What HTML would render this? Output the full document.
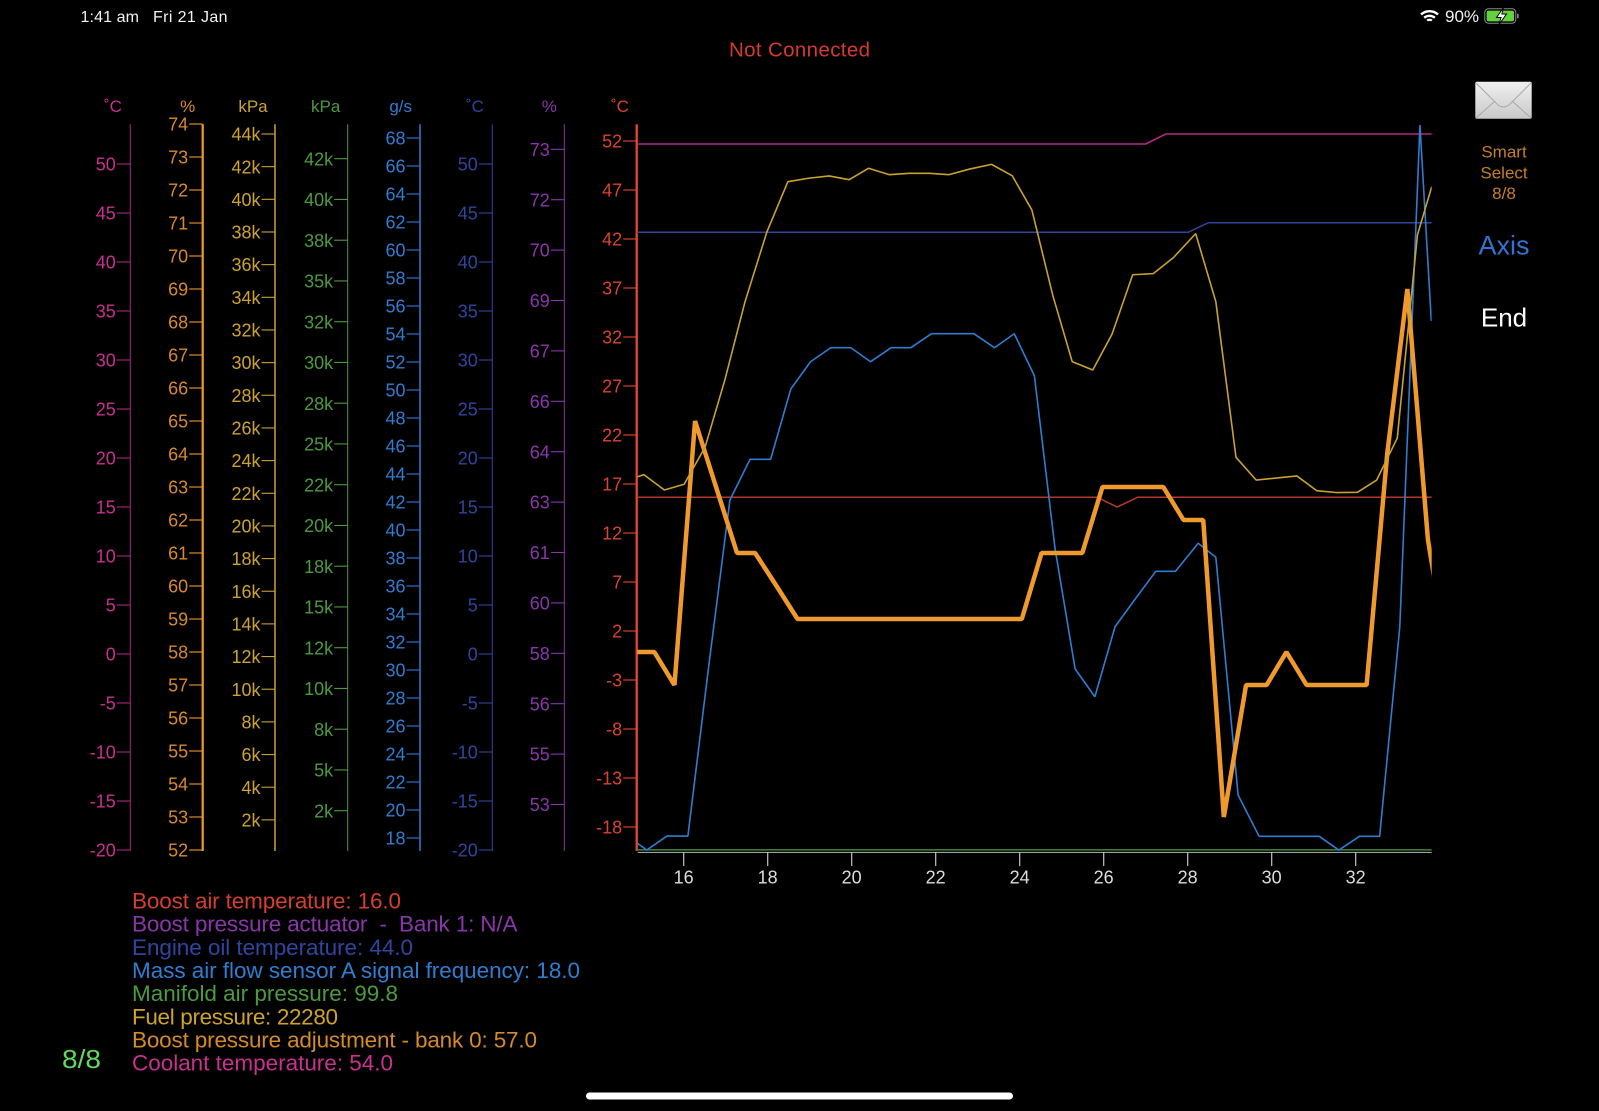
<!DOCTYPE html>
<html lang="en">
<head>
<meta charset="utf-8">
<title>OBD chart</title>
<style>
html,body{margin:0;padding:0;background:#000;width:1599px;height:1111px;overflow:hidden}
svg{display:block;position:absolute;left:0;top:0}
text{font-family:"Liberation Sans",sans-serif}
</style>
</head>
<body>
<svg id="chart" width="1599" height="1111" viewBox="0 0 1599 1111">
  <defs>
    <clipPath id="plotClip"><rect x="637.2" y="120" width="794.5" height="735"/></clipPath>
    <linearGradient id="env" x1="0" y1="0" x2="0" y2="1"><stop offset="0" stop-color="#f0f0f0"/><stop offset="1" stop-color="#c9c9c9"/></linearGradient>
  </defs>
  <rect width="1599" height="1111" fill="#000"/>
  <g>
    <text x="80.5" y="21.8" font-size="16" fill="#f2f2f2" textLength="58.5" lengthAdjust="spacing">1:41 am</text>
    <text x="153" y="21.8" font-size="16" fill="#f2f2f2" textLength="74.5" lengthAdjust="spacing">Fri 21 Jan</text>
    <g fill="none" stroke="#fff" stroke-width="2.4">
      <path d="M1421 14.5a12.5 12.5 0 0 1 17 0"/>
      <path d="M1424.2 17.8a8 8 0 0 1 10.6 0"/>
      <path d="M1427.2 20.6a3.6 3.6 0 0 1 4.6 0"/>
    </g>
    <text x="1445" y="22" font-size="17" fill="#f2f2f2">90%</text>
    <g>
      <rect x="1484.8" y="8.8" width="31" height="14.4" rx="3.6" fill="none" stroke="#8a8a8a" stroke-width="1"/>
      <rect x="1486.6" y="10.6" width="27.4" height="10.8" rx="2" fill="#62d23e"/>
      <rect x="1517" y="13.5" width="1.8" height="5" rx="0.9" fill="#777"/>
      <path d="M1503.5 7.5l-7 10h4.5l-2 7 7.5-10.5h-4.6z" fill="#fff" stroke="#000" stroke-width="1"/>
    </g>
  </g>
  <text x="799.5" y="56.5" font-size="20.5" text-anchor="middle" fill="#d43a2e" textLength="141" lengthAdjust="spacing">Not Connected</text>

  <g id="axes"></g>
  <g id="xaxis"></g>
  <g id="series" clip-path="url(#plotClip)"></g>

  <g font-size="22.5">
    <text x="132" y="908.5" fill="#d43f2e" textLength="269" lengthAdjust="spacing">Boost air temperature: 16.0</text>
    <text x="132" y="931.5" fill="#8a36ab" textLength="385.5" lengthAdjust="spacing" xml:space="preserve">Boost pressure actuator  -  Bank 1: N/A</text>
    <text x="132" y="955" fill="#2f459e" textLength="281" lengthAdjust="spacing">Engine oil temperature: 44.0</text>
    <text x="132" y="978" fill="#2f7dd1" textLength="448" lengthAdjust="spacing">Mass air flow sensor A signal frequency: 18.0</text>
    <text x="132" y="1001" fill="#4c9a40" textLength="266" lengthAdjust="spacing">Manifold air pressure: 99.8</text>
    <text x="132" y="1024.5" fill="#cda32e" textLength="206" lengthAdjust="spacing">Fuel pressure: 22280</text>
    <text x="132" y="1047.5" fill="#d48a26" textLength="405" lengthAdjust="spacing">Boost pressure adjustment - bank 0: 57.0</text>
    <text x="132" y="1070.5" fill="#c9308f" textLength="261" lengthAdjust="spacing">Coolant temperature: 54.0</text>
  </g>
  <text x="62" y="1068" font-size="26" fill="#63d95c" textLength="39" lengthAdjust="spacingAndGlyphs">8/8</text>

  <g>
    <rect x="1475.3" y="81.7" width="56.4" height="37" rx="1.5" fill="url(#env)"/>
    <path d="M1476 83l22 22q5.5 4 11 0l22-22M1476 118l19-17M1531 118l-19-17" fill="none" stroke="#a8a8a8" stroke-width="1"/>
  </g>
  <g font-size="17" fill="#c67f25" text-anchor="middle">
    <text x="1504" y="157.5">Smart</text>
    <text x="1504" y="178.5">Select</text>
    <text x="1504" y="199">8/8</text>
  </g>
  <text x="1504" y="254.5" font-size="27" fill="#2f74d0" text-anchor="middle">Axis</text>
  <text x="1504" y="326.5" font-size="26" fill="#fff" text-anchor="middle">End</text>
  <rect x="586" y="1092.5" width="427" height="7" rx="3.5" fill="#fff"/>
</svg>
<script>
// Tick values
const coolantTicks = [-20,-15,-10,-5,0,5,10,15,20,25,30,35,40,45,50];
const adjustTicks = [52,53,54,55,56,57,58,59,60,61,62,63,64,65,66,67,68,69,70,71,72,73,74];
const fuelTicks = [2,4,6,8,10,12,14,16,18,20,22,24,26,28,30,32,34,36,38,40,42,44];
const manifoldTicks = [2.5,5,7.5,10,12.5,15,17.5,20,22.5,25,27.5,30,32.5,35,37.5,40,42.5];
const manifoldLabels = ['2k','5k','8k','10k','12k','15k','18k','20k','22k','25k','28k','30k','32k','35k','38k','40k','42k'];
const mafTicks = [18,20,22,24,26,28,30,32,34,36,38,40,42,44,46,48,50,52,54,56,58,60,62,64,66,68];
const oilTicks = [-20,-15,-10,-5,0,5,10,15,20,25,30,35,40,45,50];
const actuatorTicks = [53.5,55,56.5,58,59.5,61,62.5,64,65.5,67,68.5,70,71.5,73];
const actuatorLabels = ['53','55','56','58','60','61','63','64','66','67','69','70','72','73'];
const boostTicks = [-18,-13,-8,-3,2,7,12,17,22,27,32,37,42,47,52];
const timeTicks = [16,18,20,22,24,26,28,30,32];

// Series: time (s) and value in each series' own axis units
const boostTime = [14.88,25.84,26.32,26.81,33.81];
const boostTemp = [15.65,15.65,14.65,15.65,15.65];
const oilTime = [14.88,28.01,28.49,33.81];
const oilTemp = [43.03,43.03,44.01,44.01];
const coolantTime = [14.88,27.0,27.48,33.81];
const coolantTemp = [52.04,52.04,53.06,53.06];
const manifoldTime = [14.88,33.81];
const manifoldPressure = [0.1,0.1];
const mafTime = [14.90,15.12,15.6,16.1,16.59,17.1,17.58,18.07,18.55,19.02,19.5,19.98,20.45,20.94,21.41,21.9,22.91,23.4,23.87,24.35,24.84,25.32,25.79,26.27,26.75,27.24,27.71,28.25,28.67,29.2,29.7,31.13,31.6,32.09,32.57,33.05,33.53,33.8];
const mafFlow = [17.62,17.14,18.14,18.14,30.14,42.14,45.05,45.05,50.07,52.02,53.02,53.02,52.02,53.02,53.02,54.02,54.02,53.02,54.02,51.02,38.71,30.07,28.09,33.09,35.07,37.05,37.05,39.05,38.05,21.07,18.12,18.12,17.14,18.12,18.12,33.09,68.93,54.93];
const fuelTime = [14.90,15.05,15.54,16.01,16.51,16.98,17.46,17.98,18.48,18.97,19.46,19.94,20.40,20.89,21.37,21.85,22.32,22.82,23.33,23.82,24.29,24.79,25.25,25.74,26.2,26.69,27.18,27.66,28.19,28.67,29.15,29.63,30.1,30.6,31.07,31.56,32.04,32.5,32.99,33.47,33.81];
const fuelPressure = [23.0,23.14,22.2,22.55,24.83,28.94,33.73,38.0,41.08,41.29,41.43,41.2,41.9,41.51,41.59,41.59,41.51,41.86,42.14,41.45,39.35,34.1,30.06,29.55,31.75,35.38,35.45,36.43,37.9,33.73,24.2,22.81,22.93,23.06,22.16,22.04,22.06,22.81,25.38,37.82,40.77];
const adjustTime = [14.88,15.3,15.78,16.27,17.27,17.7,18.21,18.71,24.05,24.52,25.49,25.97,27.42,27.9,28.37,28.86,29.39,29.88,30.35,30.83,32.26,32.75,33.23,33.72,33.91];
const adjustPercent = [58,58,57,65,61,61,60,59,59,61,61,63,63,62,62,53,57,57,58,57,57,64,69,61.4,59.94];

// Axis functions
const xTime = t => 683.7 + (t - 16) * 42;
const yCoolant = v => 654 - 9.8 * v;
const yAdjust = v => 124 + (74 - v) * 33;
const yFuel = v => 134 + (44 - v) * 16.33;
const yManifold = v => 158.7 + (42.5 - v) * 16.3;
const yMaf = v => 138 + (68 - v) * 14;
const yOil = v => 654 - 9.8 * v;
const yActuator = v => 149.3 + (73 - v) * 33.6;
const yBoost = v => 141 + (52 - v) * 9.8;

const NS = 'http://www.w3.org/2000/svg';
function make(tag, parent) {
  const el = document.createElementNS(NS, tag);
  parent.appendChild(el);
  return el;
}

function drawAxis(slug, axisX, unitX, width, color, textColor, unit, ticks, labels, scale) {
  const root = document.getElementById('axes');
  const g = make('g', root);
  
  

  const spine = make('line', g);
  
  
  spine.setAttribute('x1', axisX);
  spine.setAttribute('x2', axisX);
  spine.setAttribute('y1', 124.3);
  spine.setAttribute('y2', 851);
  spine.setAttribute('stroke', color);
  spine.setAttribute('stroke-width', width);

  const title = make('text', g);
  
  
  title.setAttribute('x', unitX);
  title.setAttribute('y', 112);
  title.setAttribute('font-size', 17);
  title.setAttribute('text-anchor', 'middle');
  title.setAttribute('fill', textColor);
  title.textContent = unit;

  ticks.forEach((v, i) => {
    const y = scale(v);
    const tick = make('line', g);
    
    
    tick.setAttribute('x1', axisX - 13.5);
    tick.setAttribute('x2', axisX);
    tick.setAttribute('y1', y);
    tick.setAttribute('y2', y);
    tick.setAttribute('stroke', color);
    tick.setAttribute('stroke-width', 1.1);

    const label = make('text', g);
    
    
    label.setAttribute('x', axisX - 14.5);
    label.setAttribute('y', y + 6.6);
    label.setAttribute('font-size', 18);
    label.setAttribute('text-anchor', 'end');
    label.setAttribute('fill', textColor);
    label.textContent = labels[i];
  });
}

const plain = a => a.map(String);
drawAxis('coolant', 130.3, 113, 1, '#a9277c', '#c9308f', '˚C', coolantTicks, plain(coolantTicks), yCoolant);
drawAxis('boost-adjust', 202.7, 187.7, 2.2, '#f09a2e', '#d9892a', '%', adjustTicks, plain(adjustTicks), yAdjust);
drawAxis('fuel', 275, 253, 1.5, '#c9a22e', '#cda32e', 'kPa', fuelTicks, fuelTicks.map(v => v + 'k'), yFuel);
drawAxis('manifold', 347.7, 325.7, 1, '#4c9a40', '#4c9a40', 'kPa', manifoldTicks, manifoldLabels, yManifold);
drawAxis('maf', 420, 400.7, 1.5, '#2f7dd1', '#2f7dd1', 'g/s', mafTicks, plain(mafTicks), yMaf);
drawAxis('oil', 492.3, 475, 1, '#2f459e', '#2f459e', '˚C', oilTicks, plain(oilTicks), yOil);
drawAxis('actuator', 564.3, 549.3, 1, '#8a36ab', '#8a36ab', '%', actuatorTicks, actuatorLabels, yActuator);
drawAxis('boost-air', 636.7, 620, 2.3, '#e8472f', '#d9432e', '˚C', boostTicks, plain(boostTicks), yBoost);

// X axis
const xRoot = document.getElementById('xaxis');
const xLine = make('line', xRoot);


xLine.setAttribute('x1', 637.7);
xLine.setAttribute('x2', 1431.7);
xLine.setAttribute('y1', 852.4);
xLine.setAttribute('y2', 852.4);
xLine.setAttribute('stroke', '#b8b8b8');
xLine.setAttribute('stroke-width', 1);
timeTicks.forEach(t => {
  const tick = make('line', xRoot);
  
  
  tick.setAttribute('x1', xTime(t));
  tick.setAttribute('x2', xTime(t));
  tick.setAttribute('y1', 852);
  tick.setAttribute('y2', 866);
  tick.setAttribute('stroke', '#c4c4c4');
  tick.setAttribute('stroke-width', 1.2);

  const label = make('text', xRoot);
  
  
  label.setAttribute('x', xTime(t));
  label.setAttribute('y', 883.5);
  label.setAttribute('font-size', 18);
  label.setAttribute('text-anchor', 'middle');
  label.setAttribute('fill', '#dcdcdc');
  label.textContent = t;
});

function drawSeries(slug, times, values, scale, color, width) {
  const root = document.getElementById('series');
  const line = make('polyline', root);
  
  
  line.setAttribute('points', times.map((t, i) => xTime(t).toFixed(2) + ',' + scale(values[i]).toFixed(2)).join(' '));
  line.setAttribute('fill', 'none');
  line.setAttribute('stroke', color);
  line.setAttribute('stroke-width', width);
  line.setAttribute('stroke-linejoin', 'bevel');
}

drawSeries('coolant-temperature-line', coolantTime, coolantTemp, yCoolant, '#b02a82', 1.6);
drawSeries('boost-air-temperature-line', boostTime, boostTemp, yBoost, '#b5392a', 1.5);
drawSeries('engine-oil-temperature-line', oilTime, oilTemp, yOil, '#2f459e', 1.5);
drawSeries('manifold-air-pressure-line', manifoldTime, manifoldPressure, yManifold, '#3f7a36', 1.6);
drawSeries('mass-air-flow-line', mafTime, mafFlow, yMaf, '#2f7dd1', 1.6);
drawSeries('boost-pressure-adjustment-line', adjustTime, adjustPercent, yAdjust, '#f09a2e', 4.5);
drawSeries('fuel-pressure-line', fuelTime, fuelPressure, yFuel, '#c9a22e', 1.6);
</script>
</body>
</html>
